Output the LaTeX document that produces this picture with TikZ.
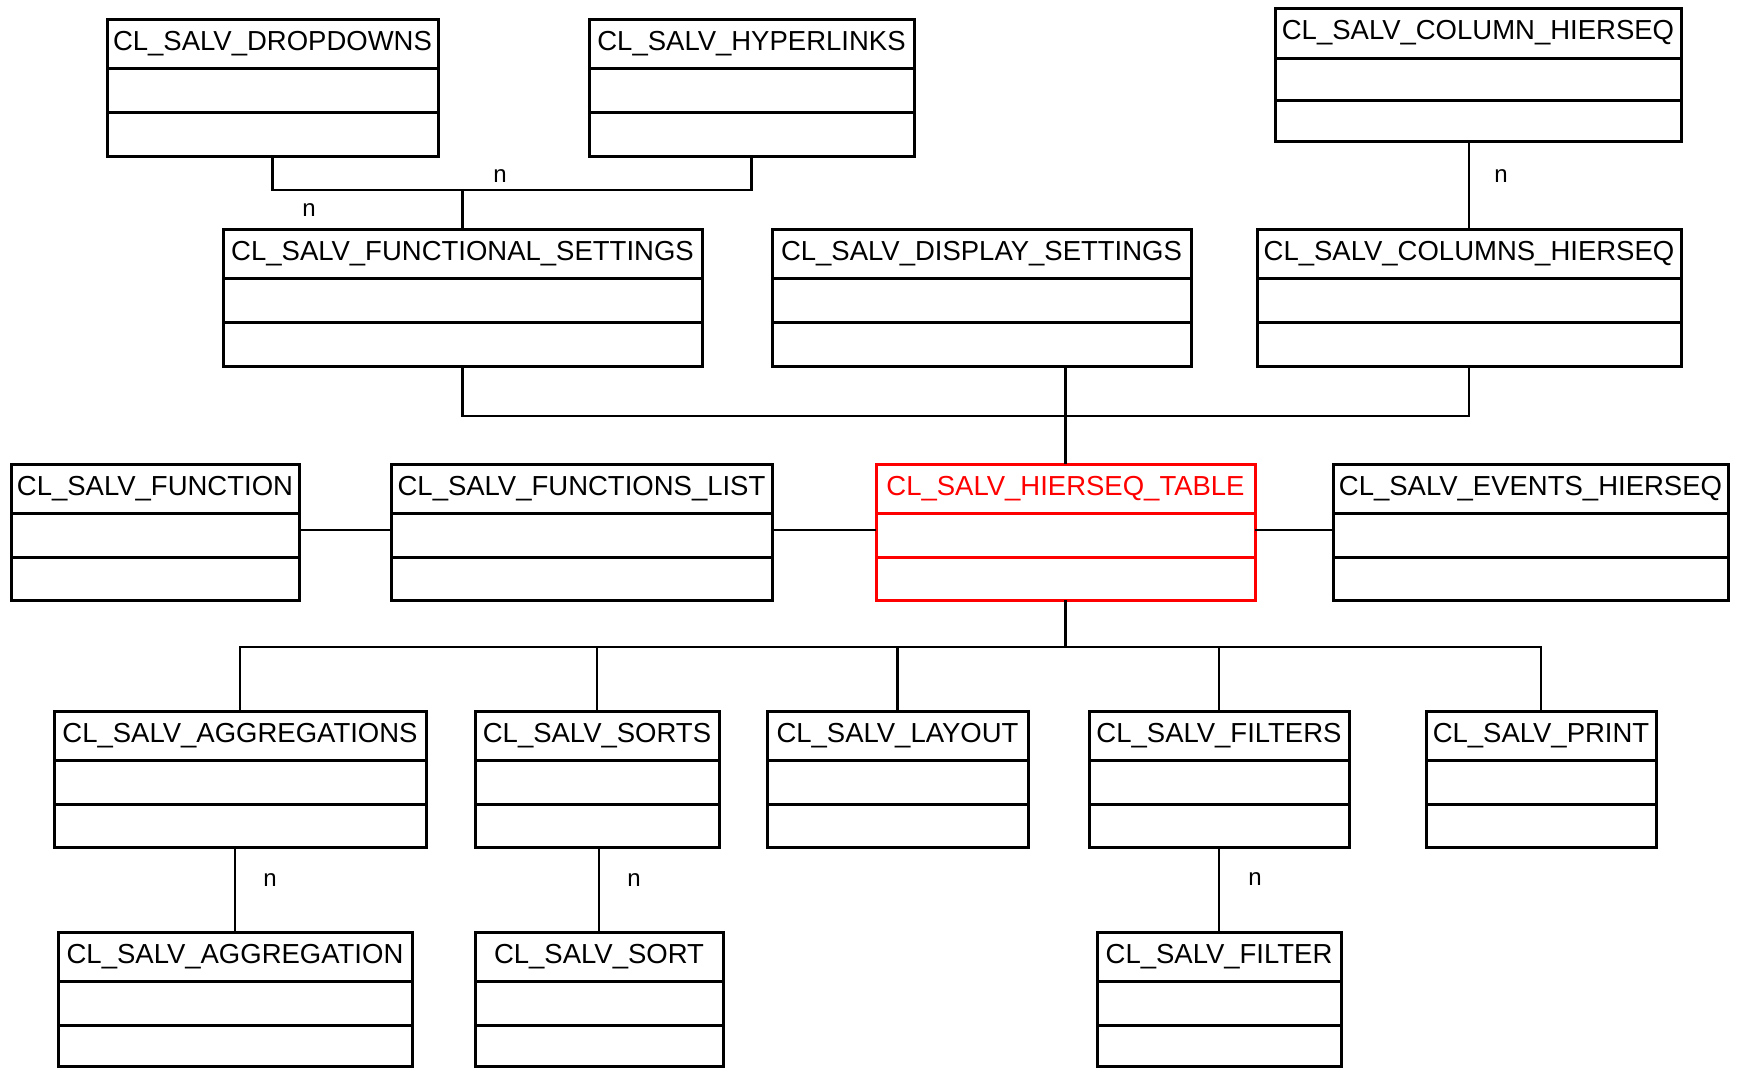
\documentclass[tikz,border=0pt]{standalone}
\usepackage{fontspec}
\setmainfont{Liberation Sans}
\usetikzlibrary{calc}
\definecolor{umlred}{RGB}{255,0,0}
\tikzset{
  boxline/.style={line width=3pt},
  conn/.style={line width=2.6pt, draw=black},
  titletext/.style={font=\fontsize{27.5}{30}\selectfont, inner sep=0pt, anchor=base},
  mult/.style={font=\fontsize{24}{26}\selectfont, inner sep=0pt},
}
\newcommand{\umlclass}[9]{%
  \node[draw=#9, boxline, rectangle, inner sep=0pt, outer sep=0pt, anchor=north west,
        minimum width={#4pt-#2pt}, minimum height={#5pt-#3pt}] (#1) at (#2,#3) {};
  \draw[draw=#9, boxline] (#2,#6) -- (#4,#6);
  \draw[draw=#9, boxline] (#2,#7) -- (#4,#7);
  \node[titletext, text=#9] (#1-title) at ({(#2+#4)/2},{#3+31}) {#8};
}
\begin{document}
\begin{tikzpicture}[x=1pt,y=-1pt]
\fill[white] (0,0) rectangle (1740,1068);
\useasboundingbox (0,0) rectangle (1740,1068);

% row 1
\umlclass{dd}{107}{19}{438}{156}{68}{112}{CL\_SALV\_DROPDOWNS}{black}
\umlclass{hl}{589}{19}{914}{156}{68}{112}{CL\_SALV\_HYPERLINKS}{black}
\umlclass{colh}{1275}{8}{1681}{141}{58}{100}{CL\_SALV\_COLUMN\_HIERSEQ}{black}
% row 2
\umlclass{fs}{223}{229}{702}{366}{278}{322}{CL\_SALV\_FUNCTIONAL\_SETTINGS}{black}
\umlclass{ds}{772}{229}{1191}{366}{278}{322}{CL\_SALV\_DISPLAY\_SETTINGS}{black}
\umlclass{cs}{1257}{229}{1681}{366}{278}{322}{CL\_SALV\_COLUMNS\_HIERSEQ}{black}
% row 3
\umlclass{fn}{11}{464}{299}{600}{513}{557}{CL\_SALV\_FUNCTION}{black}
\umlclass{fl}{391}{464}{772}{600}{513}{557}{CL\_SALV\_FUNCTIONS\_LIST}{black}
\umlclass{tbl}{876}{464}{1255}{600}{513}{557}{CL\_SALV\_HIERSEQ\_TABLE}{umlred}
\umlclass{ev}{1333}{464}{1728}{600}{513}{557}{CL\_SALV\_EVENTS\_HIERSEQ}{black}
% row 4
\umlclass{ags}{54}{711}{426}{847}{760}{804}{CL\_SALV\_AGGREGATIONS}{black}
\umlclass{so}{475}{711}{719}{847}{760}{804}{CL\_SALV\_SORTS}{black}
\umlclass{ly}{767}{711}{1028}{847}{760}{804}{CL\_SALV\_LAYOUT}{black}
\umlclass{fi}{1089}{711}{1349}{847}{760}{804}{CL\_SALV\_FILTERS}{black}
\umlclass{pr}{1426}{711}{1656}{847}{760}{804}{CL\_SALV\_PRINT}{black}
% row 5
\umlclass{ag}{58}{932}{412}{1066}{981}{1025}{CL\_SALV\_AGGREGATION}{black}
\umlclass{st}{475}{932}{723}{1066}{981}{1025}{CL\_SALV\_SORT}{black}
\umlclass{fil}{1097}{932}{1341}{1066}{981}{1025}{CL\_SALV\_FILTER}{black}

% helper levels
\coordinate (y190) at (0,190);
\coordinate (y416) at (0,416);
\coordinate (y530) at (0,530);
\coordinate (y647) at (0,647);

% connectors row 1 -> row 2
\draw[conn] (dd.south) -- (dd.south |- y190) -- (hl.south |- y190) -- (hl.south);
\draw[conn] (fs.north) -- (fs.north |- y190);
\draw[conn] (cs.north) -- (cs.north |- colh.south);

% row 2 -> table
\draw[conn] (fs.south) -- (fs.south |- y416) -- (cs.south |- y416) -- (cs.south);
\draw[conn] (tbl.north) -- (tbl.north |- ds.south);

% row 3 horizontals
\draw[conn] (fn.east |- y530) -- (fl.west |- y530);
\draw[conn] (fl.east |- y530) -- (tbl.west |- y530);
\draw[conn] (tbl.east |- y530) -- (ev.west |- y530);

% table -> row 4
\draw[conn] (tbl.south) -- (tbl.south |- y647);
\draw[conn] (ags.north) -- (ags.north |- y647) -- (pr.north |- y647) -- (pr.north);
\draw[conn] (so.north) -- (so.north |- y647);
\draw[conn] (ly.north) -- (ly.north |- y647);
\draw[conn] (fi.north) -- (fi.north |- y647);

% row 4 -> row 5
\draw[conn] (ag.north) -- (ag.north |- ags.south);
\draw[conn] (st.north) -- (st.north |- so.south);
\draw[conn] (fil.north) -- (fil.north |- fi.south);

% multiplicities
\node[mult] (n1) at (500,176) {n};
\node[mult] (n2) at (309,210) {n};
\node[mult] (n3) at (1501,176) {n};
\node[mult] (n4) at (270,880) {n};
\node[mult] (n5) at (634,880) {n};
\node[mult] (n6) at (1255,879) {n};
\end{tikzpicture}
\end{document}
